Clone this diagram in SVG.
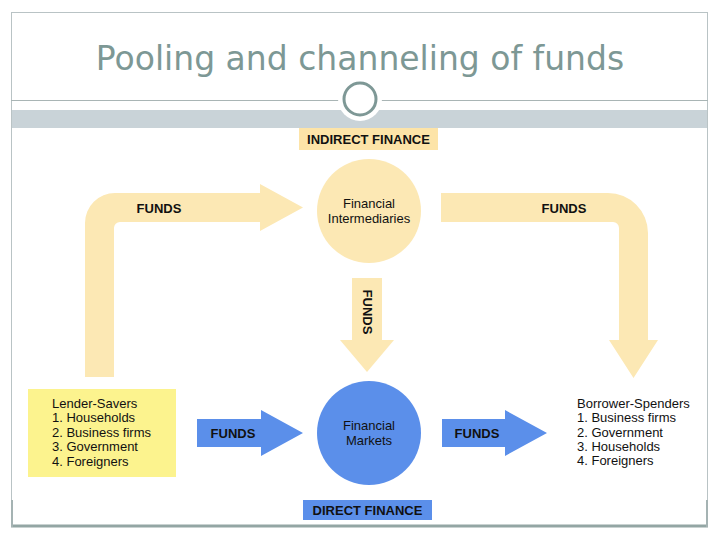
<svg xmlns="http://www.w3.org/2000/svg" width="720" height="540" viewBox="0 0 720 540">
<style>
.title{font-family:"DejaVu Sans",sans-serif;font-size:33px;fill:#7d9895}
.lbl{font-family:"Liberation Sans",Arial,sans-serif;font-size:13px;fill:#111}
.b{font-weight:bold}
.tan{fill:#fce8b4}
.blue{fill:#5b8fea}
</style>
<rect width="720" height="540" fill="#fff"/>
<g id="frame">
<rect x="11.5" y="12.5" width="696" height="513" fill="none" stroke="#b9c3c5" stroke-width="1"/>
<line x1="11" y1="100.5" x2="708" y2="100.5" stroke="#a9b5b5" stroke-width="1"/>
<rect x="12" y="110" width="695" height="18" fill="#c9d3d8"/>
<line x1="11" y1="526" x2="708" y2="526" stroke="#93a6a4" stroke-width="3"/>
<line x1="12" y1="500" x2="12" y2="527" stroke="#a5b3b3" stroke-width="2"/>
<line x1="707" y1="500" x2="707" y2="527" stroke="#a5b3b3" stroke-width="2"/>
<circle cx="360" cy="99" r="22" fill="#fff"/>
<circle cx="360" cy="99" r="16" fill="#fff" stroke="#7e9896" stroke-width="3"/>
</g>
<text class="title" x="360" y="70" text-anchor="middle">Pooling and channeling of funds</text>
<g id="connectors">
<path class="tan" d="M85,377 V223 A30,30 0 0 1 115,193 H260 V184 L303,207.5 L260,231 V222 H120 A6,6 0 0 0 114,228 V377 Z"/>
<path class="tan" d="M441,193 H608 A40,40 0 0 1 648,233 V340 H658 L633.5,378 L609,340 H619 V228 A6,6 0 0 0 613,222 H441 Z"/>
<path class="tan" d="M352,278 H382 V340 H394 L367,372 L340,340 H352 Z"/>
<path class="blue" d="M197,419 H261 V410 L303,433 L261,456 V447 H197 Z"/>
<path class="blue" d="M442,419 H505 V410 L547,433 L505,456 V447 H442 Z"/>
<text class="lbl b" x="159" y="213" text-anchor="middle">FUNDS</text>
<text class="lbl b" x="564" y="213" text-anchor="middle">FUNDS</text>
<text class="lbl b" transform="translate(363,312) rotate(90)" text-anchor="middle">FUNDS</text>
<text class="lbl b" x="233" y="438" text-anchor="middle">FUNDS</text>
<text class="lbl b" x="477" y="438" text-anchor="middle">FUNDS</text>
</g>
<g id="indirect-finance">
<rect x="299" y="128" width="139" height="22" fill="#fde4a8"/>
<text class="lbl b" x="368.5" y="144" text-anchor="middle">INDIRECT FINANCE</text>
</g>
<g id="financial-intermediaries">
<circle class="tan" cx="369" cy="211" r="52"/>
<text class="lbl" x="369" y="208" text-anchor="middle">Financial</text>
<text class="lbl" x="369" y="223" text-anchor="middle">Intermediaries</text>
</g>
<g id="financial-markets">
<circle class="blue" cx="369" cy="433" r="52"/>
<text class="lbl" x="369" y="430" text-anchor="middle">Financial</text>
<text class="lbl" x="369" y="445" text-anchor="middle">Markets</text>
</g>
<g id="lender-savers">
<rect x="28" y="389" width="148" height="88" fill="#fcf38e"/>
<text class="lbl" x="52" y="408">Lender-Savers</text>
<text class="lbl" x="52" y="422">1. Households</text>
<text class="lbl" x="52" y="437">2. Business firms</text>
<text class="lbl" x="52" y="451">3. Government</text>
<text class="lbl" x="52" y="466">4. Foreigners</text>
</g>
<g id="borrower-spenders">
<text class="lbl" x="577" y="408">Borrower-Spenders</text>
<text class="lbl" x="577" y="422">1. Business firms</text>
<text class="lbl" x="577" y="437">2. Government</text>
<text class="lbl" x="577" y="451">3. Households</text>
<text class="lbl" x="577" y="465">4. Foreigners</text>
</g>
<g id="direct-finance">
<rect x="303" y="500" width="129" height="20" fill="#5b8fea"/>
<text class="lbl b" x="367.5" y="515" text-anchor="middle">DIRECT FINANCE</text>
</g>
</svg>
